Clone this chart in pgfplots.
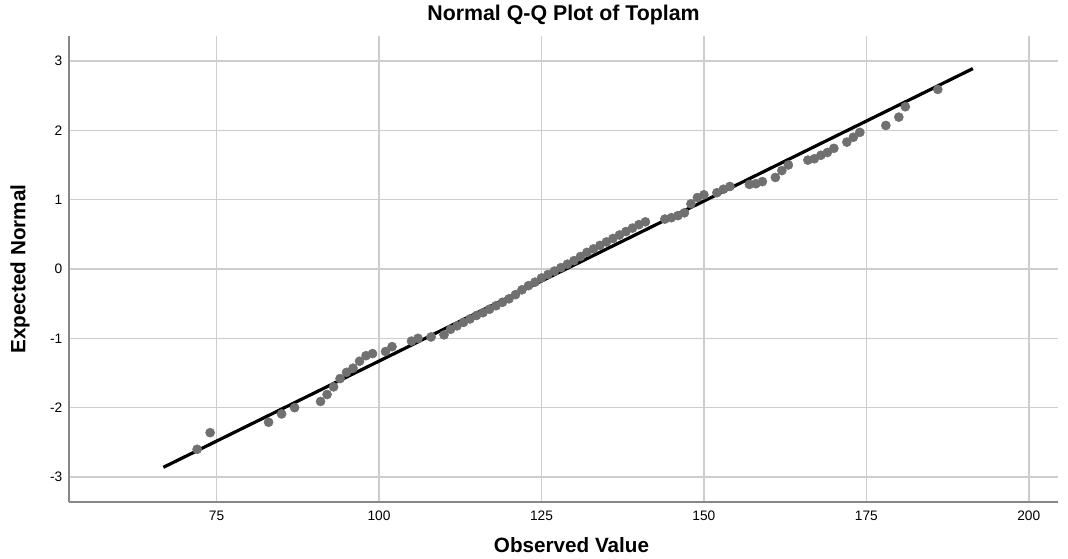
\documentclass[border=0pt]{standalone}
\usepackage{fontspec}
\setmainfont{Liberation Sans}
\usepackage{pgfplots}
\usepackage{pgfplotstable}
\pgfplotsset{compat=1.18}
\definecolor{dotgray}{RGB}{112,112,112}
\definecolor{gridgray}{RGB}{205,205,205}
\definecolor{axgray}{RGB}{135,135,135}

% observed value, expected normal
\pgfplotstableread{
x y
72 -2.60
74 -2.36
83 -2.21
85 -2.09
87 -2.00
91 -1.91
92 -1.81
93 -1.70
94 -1.58
95 -1.49
96 -1.43
97 -1.33
98 -1.25
99 -1.22
101 -1.19
102 -1.12
105 -1.04
106 -1.00
108 -0.98
110 -0.95
111 -0.87
112 -0.82
113 -0.77
114 -0.72
115 -0.67
116 -0.63
117 -0.58
118 -0.53
119 -0.48
120 -0.43
121 -0.37
122 -0.30
123 -0.24
124 -0.19
125 -0.13
126 -0.08
127 -0.03
128 0.02
129 0.07
130 0.12
131 0.18
132 0.24
133 0.29
134 0.34
135 0.39
136 0.44
137 0.49
138 0.54
139 0.59
140 0.64
141 0.68
144 0.72
145 0.74
146 0.77
147 0.81
148 0.94
149 1.03
150 1.07
152 1.10
153 1.15
154 1.19
157 1.22
158 1.23
159 1.26
161 1.32
162 1.42
163 1.50
166 1.57
167 1.59
168 1.64
169 1.68
170 1.74
172 1.83
173 1.90
174 1.97
178 2.07
180 2.19
181 2.34
186 2.59
}\qqdata

\begin{document}
\begin{tikzpicture}
\path[use as bounding box] (-51.75pt,-42pt) rectangle (749.25pt,376.5pt);
\begin{axis}[
  name=ax, at={(0,0)}, anchor=south west,
  scale only axis, width=741.75pt, height=349.5pt,
  xmin=52.28, xmax=204.5, ymin=-3.36, ymax=3.36,
  axis lines*=left,
  axis line style={axgray, line width=1.4pt},
  xtick={75,100,125,150,175,200},
  ytick={-3,-2,-1,0,1,2,3},
  yticklabels={-3,-2,-1,0,1,2,3},
  xticklabels={75,100,125,150,175,200},
  major tick length=0pt,
  tick style={draw=none},
  grid=major,
  major grid style={gridgray, line width=1.2pt},
  ticklabel style={font=\fontsize{10.3}{12}\selectfont},
  xticklabel style={yshift=-3pt},
  yticklabel style={xshift=-1.5pt},
  clip=false
]
  \addplot[only marks, mark=*, mark size=3.4pt, color=dotgray,
    mark options={draw=dotgray, fill=dotgray}] table[x=x, y=y] {\qqdata};
  \addplot[black, line width=2.4pt] coordinates {(66.8,-2.86) (191.4,2.89)};
\end{axis}
\node[font=\bfseries\fontsize{16}{18}\selectfont] at ([yshift=15.5pt]ax.north) {Normal Q-Q Plot of Toplam};
\node[font=\bfseries\fontsize{15.5}{18}\selectfont] at ([xshift=6pt,yshift=-32.25pt]ax.south) {Observed Value};
\node[font=\bfseries\fontsize{15.5}{18}\selectfont, rotate=90] at ([xshift=-36.75pt]ax.west) {Expected Normal};
\end{tikzpicture}
\end{document}
